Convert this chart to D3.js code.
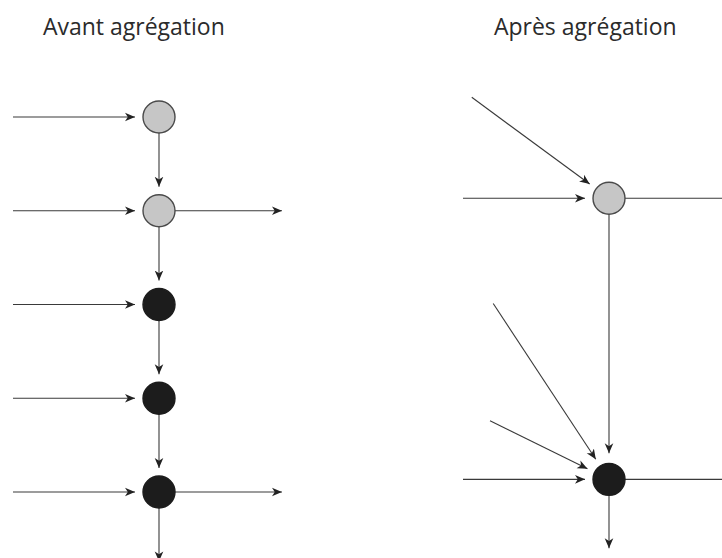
<!DOCTYPE html>
<html>
<head>
<meta charset="utf-8">
<script src="https://cdn.jsdelivr.net/npm/d3@7/dist/d3.min.js"></script>
<style>
  html, body { margin: 0; padding: 0; background: #fff; }
  svg { display: block; }
</style>
</head>
<body>
<script>
// ---------- data ----------
const panelTitles = ["Avant agrégation", "Après agrégation"];
const titleUnits = [0.205, 0.212];          // title start, in panel x-units

// Left panel ("avant"): five stacked nodes
const leftNodeKinds  = ["gris", "gris", "noir", "noir", "noir"];
const leftNodeLevels = [0, 1, 2, 3, 4];
const leftOutgoing   = [false, true, false, false, true];
const leftFinalDownLevel = 4.74;

// Right panel ("après"): two aggregated nodes
const rightNodeKinds  = ["gris", "noir"];
const rightNodeLevels = [0.867, 3.865];
// extra incoming diagonal sources [node index, x-unit, level]
const rightDiagonals = [[0, 0.06, -0.21], [1, 0.207, 1.99], [1, 0.185, 3.24]];
const rightFinalDownLevel = 4.60;

const kindFill = { gris: "#c6c6c6", noir: "#1c1c1c" };

// ---------- layout ----------
const W = 722, H = 558;
const svg = d3.select("body").append("svg").attr("width", W).attr("height", H);

const y = d3.scaleLinear().domain([0, 4]).range([117, 492]);
const xLeft  = d3.scaleLinear().domain([0, 1]).range([13, 159]);
const xRight = d3.scaleLinear().domain([0, 1]).range([463, 609]);
const R = 16, GAP = 24;
const lineColor = "#3a3a3a";

const defs = svg.append("defs");
defs.append("marker")
  .attr("id", "arrow").attr("viewBox", "0 -5 11 10")
  .attr("refX", 10).attr("refY", 0)
  .attr("markerWidth", 11).attr("markerHeight", 10)
  .attr("markerUnits", "userSpaceOnUse")
  .attr("orient", "auto")
  .append("path").attr("d", "M0,-4.3 L10,0 L0,4.3 L2.8,0 Z").attr("fill", "#222");

// Titles
const tx = [xLeft, xRight];
panelTitles.forEach((t, i) => {
  svg.append("text")
    .attr("x", tx[i](titleUnits[i]))
    .attr("y", 35)
    .attr("font-family", "Open Sans, sans-serif")
    .attr("font-size", 23)
    .attr("fill", "#2b2b2b")
    .text(t);
});

function arrow(x1, y1, x2, y2, shortenEnd, head) {
  const dx = x2 - x1, dy = y2 - y1, L = Math.hypot(dx, dy);
  const ex = x2 - dx / L * shortenEnd, ey = y2 - dy / L * shortenEnd;
  const ln = svg.append("line")
    .attr("x1", x1).attr("y1", y1).attr("x2", ex).attr("y2", ey)
    .attr("stroke", lineColor).attr("stroke-width", 1.1);
  if (head) ln.attr("marker-end", "url(#arrow)");
}

// ----- Left panel -----
leftNodeLevels.forEach((lv, i) => {
  const cx = xLeft(1), cy = y(lv);
  arrow(xLeft(0), cy, cx, cy, GAP, true);
  if (i < leftNodeLevels.length - 1) {
    arrow(cx, cy + R, cx, y(leftNodeLevels[i + 1]), GAP, true);
  } else {
    arrow(cx, cy + R, cx, y(leftFinalDownLevel), 0, true);
  }
  if (leftOutgoing[i]) arrow(cx + R, cy, xLeft(1.842), cy, 0, true);
});

// ----- Right panel -----
rightNodeLevels.forEach((lv, i) => {
  const cx = xRight(1), cy = y(lv);
  arrow(xRight(0), cy, cx, cy, GAP, true);
  arrow(cx + R, cy, W + 2, cy, 0, false);
  if (i < rightNodeLevels.length - 1) {
    arrow(cx, cy + R, cx, y(rightNodeLevels[i + 1]), 26, true);
  } else {
    arrow(cx, cy + R, cx, y(rightFinalDownLevel), 0, true);
  }
});
rightDiagonals.forEach(([ni, u, lv]) => {
  arrow(xRight(u), y(lv), xRight(1), y(rightNodeLevels[ni]), GAP, true);
});

// Nodes on top
const nodes = leftNodeKinds.map((k, i) => ({ k, x: xLeft(1), y: y(leftNodeLevels[i]) }))
  .concat(rightNodeKinds.map((k, i) => ({ k, x: xRight(1), y: y(rightNodeLevels[i]) })));
svg.selectAll("circle.node").data(nodes).enter().append("circle")
  .attr("class", "node")
  .attr("cx", d => d.x).attr("cy", d => d.y).attr("r", R)
  .attr("fill", d => kindFill[d.k])
  .attr("stroke", d => d.k === "gris" ? "#4a4a4a" : "#1c1c1c")
  .attr("stroke-width", 1.4);
</script>
</body>
</html>
